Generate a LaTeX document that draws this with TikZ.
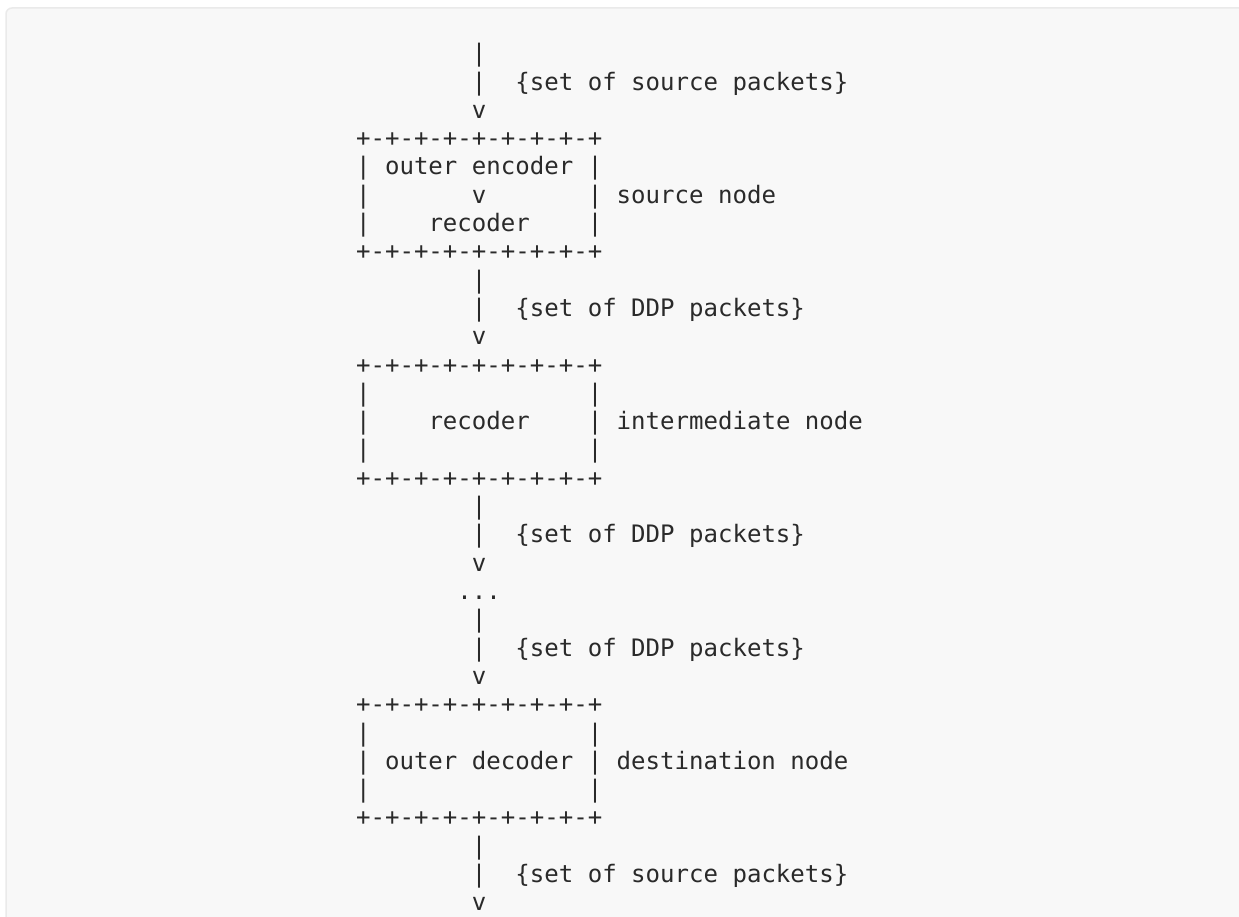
\documentclass[tikz,border=0pt]{standalone}
\usepackage{fontspec}
\setmonofont{DejaVu Sans Mono}
\definecolor{panelfill}{HTML}{F8F8F8}
\definecolor{panelline}{HTML}{EAEAEA}
\definecolor{ink}{HTML}{2A2A2A}
\newcommand\asc[4]{\node[asciitext] (#1) at ({356.1+#2*14.48},{916-(203.3+(#3-6)*28.3)}) {#4};}
\begin{document}
\begin{tikzpicture}[x=1pt,y=1pt,
  asciitext/.style={anchor=base west,inner sep=0pt,outer sep=0pt,text=ink,
    font=\ttfamily\fontsize{24.05pt}{28.3pt}\selectfont}]
\useasboundingbox (0,0) rectangle (1239,916);
\fill[white] (0,0) rectangle (1239,916);
\begin{scope}
\clip (0,0) rectangle (1239,916);
\draw[panelline,fill=panelfill,line width=1.5pt,rounded corners=6pt] (6,908) rectangle (1245,-20);
\end{scope}
% source packets in
\asc{a1}{8}{1}{|}
\asc{a2}{8}{2}{|}
\asc{l1}{11}{2}{\{set of source packets\}}
\asc{a3}{8}{3}{v}
% source node
\asc{s1}{0}{4}{+-+-+-+-+-+-+-+-+}
\asc{s2}{0}{5}{| outer encoder |}
\asc{s3a}{0}{6}{|}
\asc{s3b}{8}{6}{v}
\asc{s3c}{16}{6}{| source node}
\asc{s4a}{0}{7}{|}
\asc{s4b}{5}{7}{recoder}
\asc{s4c}{16}{7}{|}
\asc{s5}{0}{8}{+-+-+-+-+-+-+-+-+}
% DDP packets
\asc{b1}{8}{9}{|}
\asc{b2}{8}{10}{|}
\asc{l2}{11}{10}{\{set of DDP packets\}}
\asc{b3}{8}{11}{v}
% intermediate node
\asc{i1}{0}{12}{+-+-+-+-+-+-+-+-+}
\asc{i2a}{0}{13}{|}
\asc{i2b}{16}{13}{|}
\asc{i3a}{0}{14}{|}
\asc{i3b}{5}{14}{recoder}
\asc{i3c}{16}{14}{| intermediate node}
\asc{i4a}{0}{15}{|}
\asc{i4b}{16}{15}{|}
\asc{i5}{0}{16}{+-+-+-+-+-+-+-+-+}
% DDP packets
\asc{c1}{8}{17}{|}
\asc{c2}{8}{18}{|}
\asc{l3}{11}{18}{\{set of DDP packets\}}
\asc{c3}{8}{19}{v}
\asc{dots}{7}{20}{...}
\asc{d1}{8}{21}{|}
\asc{d2}{8}{22}{|}
\asc{l4}{11}{22}{\{set of DDP packets\}}
\asc{d3}{8}{23}{v}
% destination node
\asc{e1}{0}{24}{+-+-+-+-+-+-+-+-+}
\asc{e2a}{0}{25}{|}
\asc{e2b}{16}{25}{|}
\asc{e3}{0}{26}{| outer decoder | destination node}
\asc{e4a}{0}{27}{|}
\asc{e4b}{16}{27}{|}
\asc{e5}{0}{28}{+-+-+-+-+-+-+-+-+}
% source packets out
\asc{f1}{8}{29}{|}
\asc{f2}{8}{30}{|}
\asc{l5}{11}{30}{\{set of source packets\}}
\asc{f3}{8}{31}{v}
\end{tikzpicture}
\end{document}
